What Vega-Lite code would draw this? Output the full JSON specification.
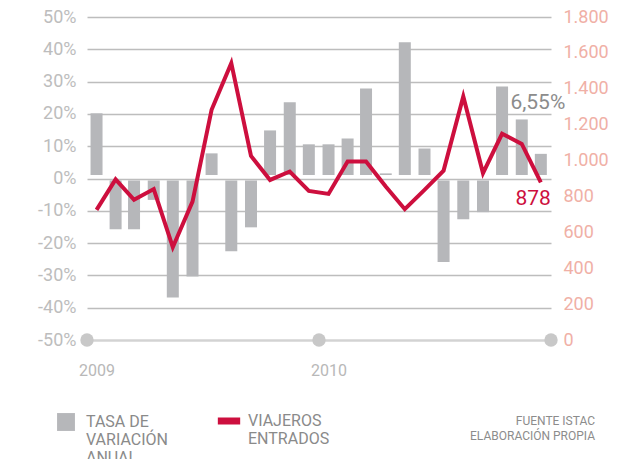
{
  "$schema": "https://vega.github.io/schema/vega-lite/v6.json",
  "width": 464,
  "height": 323,
  "autosize": {"type": "none"},
  "padding": {"left": 87, "top": 17, "right": 79, "bottom": 119},
  "background": "white",
  "config": {
    "view": {"stroke": null},
    "font": "Roboto",
    "locale": {"number": {"decimal": ",", "thousands": ".", "grouping": [3], "currency": ["", " €"], "minus": "-"}}
  },
  "title": {
    "text": ["FUENTE ISTAC", "ELABORACIÓN PROPIA"],
    "orient": "bottom",
    "anchor": "end",
    "frame": "group",
    "fontSize": 12,
    "fontWeight": "normal",
    "color": "#8c8c8c",
    "font": "Roboto",
    "offset": -50,
    "dx": 44,
    "lineHeight": 15
  },
  "data": {
    "values": [
      {"fecha": "2009-01-16", "tasa": 0.191, "viajeros": 725},
      {"fecha": "2009-02-15", "tasa": -0.151, "viajeros": 895},
      {"fecha": "2009-03-16", "tasa": -0.151, "viajeros": 781},
      {"fecha": "2009-04-16", "tasa": -0.060, "viajeros": 841},
      {"fecha": "2009-05-16", "tasa": -0.362, "viajeros": 517},
      {"fecha": "2009-06-16", "tasa": -0.297, "viajeros": 771},
      {"fecha": "2009-07-16", "tasa": 0.067, "viajeros": 1283},
      {"fecha": "2009-08-16", "tasa": -0.219, "viajeros": 1543},
      {"fecha": "2009-09-16", "tasa": -0.145, "viajeros": 1026},
      {"fecha": "2009-10-16", "tasa": 0.138, "viajeros": 892},
      {"fecha": "2009-11-16", "tasa": 0.225, "viajeros": 939},
      {"fecha": "2009-12-16", "tasa": 0.095, "viajeros": 831},
      {"fecha": "2010-01-16", "tasa": 0.095, "viajeros": 814},
      {"fecha": "2010-02-15", "tasa": 0.113, "viajeros": 995},
      {"fecha": "2010-03-16", "tasa": 0.268, "viajeros": 995},
      {"fecha": "2010-04-16", "tasa": 0.005, "viajeros": 855},
      {"fecha": "2010-05-16", "tasa": 0.411, "viajeros": 729},
      {"fecha": "2010-06-16", "tasa": 0.082, "viajeros": 837},
      {"fecha": "2010-07-16", "tasa": -0.252, "viajeros": 944},
      {"fecha": "2010-08-16", "tasa": -0.120, "viajeros": 1357},
      {"fecha": "2010-09-16", "tasa": -0.098, "viajeros": 930},
      {"fecha": "2010-10-16", "tasa": 0.274, "viajeros": 1149},
      {"fecha": "2010-11-16", "tasa": 0.172, "viajeros": 1093},
      {"fecha": "2010-12-16", "tasa": 0.0655, "viajeros": 878}
    ],
    "format": {"parse": {"fecha": "utc:'%Y-%m-%d'"}}
  },
  "encoding": {
    "x": {
      "field": "fecha",
      "type": "temporal",
      "scale": {
        "type": "utc",
        "padding": 0,
        "domain": [
          {"year": 2009, "month": 1, "date": 1, "utc": true},
          {"year": 2011, "month": 1, "date": 1, "utc": true}
        ]
      },
      "axis": {
        "values": [
          {"year": 2009, "month": 1, "date": 16, "utc": true},
          {"year": 2010, "month": 1, "date": 16, "utc": true}
        ],
        "format": "%Y",
        "title": null,
        "domain": false,
        "ticks": false,
        "grid": false,
        "labelPadding": 22,
        "labelFontSize": 16,
        "labelColor": "#b8b8b8",
        "labelFont": "Roboto"
      }
    }
  },
  "layer": [
    {
      "encoding": {
        "y": {
          "field": "tasa",
          "type": "quantitative",
          "scale": {"domain": [-0.5, 0.5], "nice": false, "zero": false},
          "axis": {
            "orient": "left",
            "values": [-0.5, -0.4, -0.3, -0.2, -0.1, 0, 0.1, 0.2, 0.3, 0.4, 0.5],
            "format": "%",
            "title": null,
            "domain": false,
            "ticks": false,
            "grid": true,
            "labelOverlap": false,
            "gridColor": {"condition": {"test": "datum.value < -0.45", "value": "#d3d3d3"}, "value": "#bdbdbd"},
            "gridWidth": {"condition": {"test": "datum.value < -0.45", "value": 2.5}, "value": 1.5},
            "labelPadding": 11,
            "labelFontSize": 18,
            "labelColor": "#bdbdbd",
            "labelFont": "Roboto"
          }
        }
      },
      "layer": [
        {
          "transform": [{"filter": "datum.tasa >= 0"}],
          "mark": {"type": "bar", "width": 12, "yOffset": -3.5, "y2Offset": -3.5},
          "encoding": {
            "y2": {"datum": 0},
            "fill": {
              "datum": "TASA DE VARIACIÓN ANUAL",
              "scale": {"range": ["#b6b7ba"]},
              "legend": {
                "title": null,
                "orient": "none",
                "legendX": -30,
                "legendY": 396,
                "padding": 0,
                "symbolType": "square",
                "symbolSize": 320,
                "symbolStrokeWidth": 0,
                "symbolOpacity": 1,
                "labelFontSize": 16,
                "labelColor": "#8a8a8a",
                "labelFont": "Roboto",
                "labelOffset": 11,
                "labelLimit": 300,
                "labelBaseline": "middle",
                "labelExpr": "['TASA DE', 'VARIACIÓN', 'ANUAL']"
              }
            }
          }
        },
        {
          "transform": [{"filter": "datum.tasa < 0"}],
          "mark": {"type": "bar", "width": 12, "yOffset": 2, "y2Offset": 2},
          "encoding": {
            "y2": {"datum": 0},
            "fill": {"datum": "TASA DE VARIACIÓN ANUAL"}
          }
        },
        {
          "transform": [{"filter": "utcyear(datum.fecha) == 2010 && utcmonth(datum.fecha) == 11"}],
          "mark": {"type": "text", "fontSize": 21, "color": "#8c8c8c", "align": "center", "baseline": "middle", "dx": -3, "dy": -54, "font": "Roboto"},
          "encoding": {
            "text": {"field": "tasa", "type": "quantitative", "format": ".2%"}
          }
        }
      ]
    },
    {
      "layer": [
        {
          "mark": {"type": "line", "strokeWidth": 4, "strokeJoin": "miter"},
          "encoding": {
            "y": {
              "field": "viajeros",
              "type": "quantitative",
              "scale": {"domain": [0, 1800], "nice": false},
              "axis": {
                "orient": "right",
                "values": [0, 200, 400, 600, 800, 1000, 1200, 1400, 1600, 1800],
                "format": ",d",
                "title": null,
                "domain": false,
                "ticks": false,
                "grid": false,
                "labelOverlap": false,
                "labelPadding": 12,
                "labelFontSize": 18,
                "labelColor": "#f0b0a6",
                "labelFont": "Roboto"
              }
            },
            "stroke": {
              "datum": "VIAJEROS ENTRADOS",
              "scale": {"range": ["#cd0f3e"]},
              "legend": {
                "title": null,
                "orient": "none",
                "legendX": 127,
                "legendY": 389,
                "padding": 0,
                "symbolType": "stroke",
                "symbolSize": 500,
                "symbolStrokeWidth": 7,
                "labelFontSize": 16,
                "labelColor": "#8a8a8a",
                "labelFont": "Roboto",
                "labelOffset": 4,
                "labelLimit": 300,
                "labelBaseline": "middle",
                "labelExpr": "['VIAJEROS', 'ENTRADOS']"
              }
            }
          }
        },
        {
          "data": {
            "values": [
              {"fecha": "2009-01-01"},
              {"fecha": "2010-01-01"},
              {"fecha": "2011-01-01"}
            ],
            "format": {"parse": {"fecha": "utc:'%Y-%m-%d'"}}
          },
          "mark": {"type": "circle", "size": 180, "color": "#c8c8c8", "opacity": 1},
          "encoding": {
            "y": {
              "datum": 0,
              "type": "quantitative",
              "scale": {"domain": [0, 1800], "nice": false},
              "axis": {
                "orient": "right",
                "values": [0, 200, 400, 600, 800, 1000, 1200, 1400, 1600, 1800],
                "format": ",d",
                "title": null,
                "domain": false,
                "ticks": false,
                "grid": false,
                "labelOverlap": false,
                "labelPadding": 12,
                "labelFontSize": 18,
                "labelColor": "#f0b0a6",
                "labelFont": "Roboto"
              }
            }
          }
        },
        {
          "transform": [{"filter": "utcyear(datum.fecha) == 2010 && utcmonth(datum.fecha) == 11"}],
          "mark": {"type": "text", "fontSize": 21, "color": "#cd0f3e", "align": "right", "baseline": "middle", "dx": 10, "dy": 17, "font": "Roboto"},
          "encoding": {
            "y": {
              "field": "viajeros",
              "type": "quantitative",
              "scale": {"domain": [0, 1800], "nice": false},
              "axis": {
                "orient": "right",
                "values": [0, 200, 400, 600, 800, 1000, 1200, 1400, 1600, 1800],
                "format": ",d",
                "title": null,
                "domain": false,
                "ticks": false,
                "grid": false,
                "labelOverlap": false,
                "labelPadding": 12,
                "labelFontSize": 18,
                "labelColor": "#f0b0a6",
                "labelFont": "Roboto"
              }
            },
            "text": {"field": "viajeros", "type": "quantitative", "format": ","}
          }
        }
      ]
    }
  ],
  "resolve": {"scale": {"y": "independent"}}
}
